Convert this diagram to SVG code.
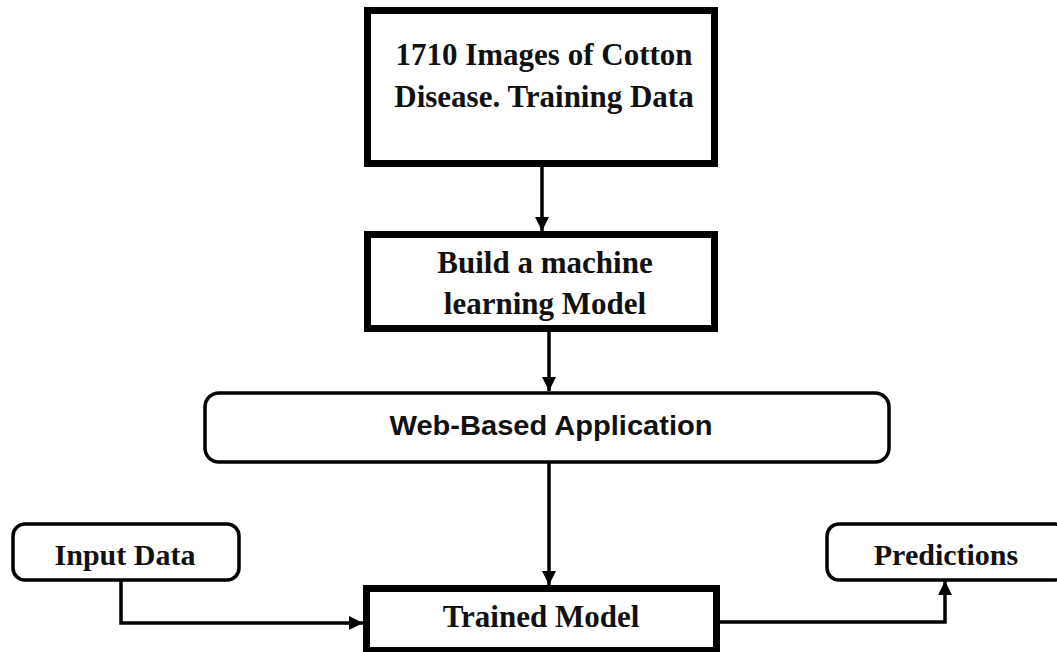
<svg xmlns="http://www.w3.org/2000/svg" width="1057" height="652" viewBox="0 0 1057 652">
<style>
.box{fill:#fff;stroke:#000;stroke-width:7}
.rbox{fill:#fff;stroke:#000;stroke-width:3.5}
.t{font-family:"Liberation Serif","Times New Roman",serif;font-weight:bold;font-size:31px;fill:#111;text-anchor:middle}
.s{font-family:"Liberation Sans",Arial,sans-serif;font-weight:bold;font-size:28px;fill:#111;text-anchor:middle}
.c{fill:none;stroke:#000;stroke-width:3.5}
</style>
<defs>
<marker id="ah" viewBox="0 0 10 10" refX="10" refY="5" markerWidth="4" markerHeight="4" orient="auto" markerUnits="strokeWidth">
<path d="M0,0 L10,5 L0,10 z" fill="#000"/>
</marker>
</defs>
<rect width="1057" height="652" fill="#fff"/>
<g id="connectors">
<line class="c" x1="542" y1="166" x2="542" y2="231" marker-end="url(#ah)"/>
<line class="c" x1="549" y1="331" x2="549" y2="391" marker-end="url(#ah)"/>
<line class="c" x1="549" y1="463" x2="549" y2="585" marker-end="url(#ah)"/>
<polyline class="c" points="121,580 121,623 363,623" marker-end="url(#ah)"/>
<polyline class="c" points="720,622 945,622 945,581" marker-end="url(#ah)"/>
</g>
<g id="node-training">
<rect class="box" x="367.5" y="10.5" width="347" height="153"/>
<text class="t" x="544" y="65">1710 Images of Cotton</text>
<text class="t" x="544" y="107">Disease. Training Data</text>
</g>
<g id="node-build">
<rect class="box" x="367.5" y="234.5" width="347" height="94"/>
<text class="t" x="545" y="273">Build a machine</text>
<text class="t" x="545" y="314">learning Model</text>
</g>
<g id="node-web">
<rect class="rbox" x="205" y="393" width="684" height="69" rx="14"/>
<text class="s" x="551" y="435" textLength="323" lengthAdjust="spacingAndGlyphs">Web-Based Application</text>
</g>
<g id="node-input">
<rect class="rbox" x="13" y="524" width="226" height="56" rx="12"/>
<text class="t" x="125" y="565" style="font-size:30px">Input Data</text>
</g>
<g id="node-predictions">
<rect class="rbox" x="827" y="524" width="240" height="56" rx="12"/>
<text class="t" x="946" y="565" style="font-size:30px">Predictions</text>
</g>
<g id="node-trained">
<rect class="box" x="366.5" y="588.5" width="350" height="62"/>
<text class="t" x="541" y="627">Trained Model</text>
</g>
</svg>
